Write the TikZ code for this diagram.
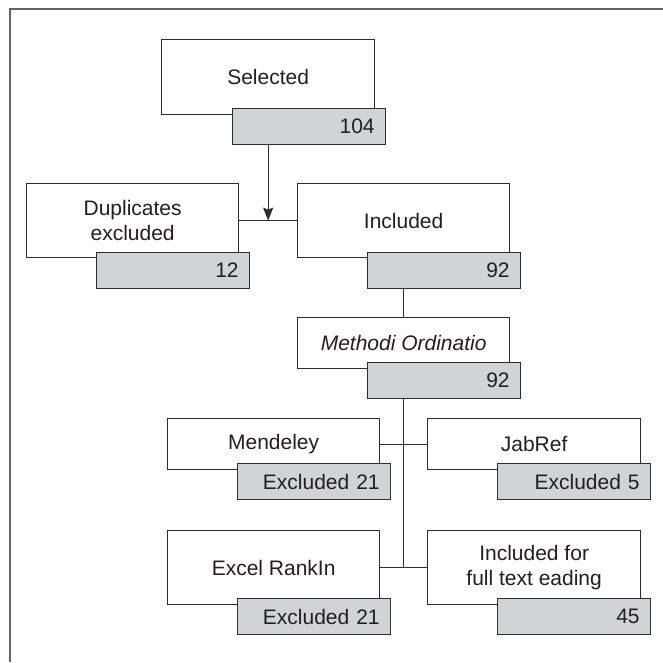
\documentclass[tikz,border=0pt]{standalone}
\usepackage{fontspec}
\setmainfont{Liberation Sans}
\usetikzlibrary{arrows.meta}
\definecolor{boxgray}{RGB}{209,211,212}
\definecolor{linec}{RGB}{45,45,45}
\definecolor{textc}{RGB}{35,31,32}
\definecolor{framec}{RGB}{100,100,100}
\begin{document}
\begin{tikzpicture}[x=1pt,y=-1pt,
  wbox/.style={draw=linec, line width=1.3pt, fill=white, rectangle, anchor=north west,
    inner sep=0pt, align=center, text=textc, font=\fontsize{21}{25.5}\selectfont},
  nbox/.style={draw=linec, line width=1.3pt, fill=boxgray, rectangle, anchor=north west,
    inner xsep=11pt, inner ysep=0pt, text width=131pt, align=right, minimum height=36pt,
    text=textc, font=\fontsize{21}{25.5}\selectfont},
  conn/.style={draw=linec, line width=1.3pt}]
\useasboundingbox (0,0) rectangle (663,662);
\draw[framec, line width=2pt] (10,662) -- (10,9) -- (663,9);

% Selected
\node[wbox, minimum width=213pt, minimum height=75pt] (sel) at (161,39) {Selected};
\node[nbox] (selnum) at (232,108) {104};

% Duplicates / Included
\node[wbox, minimum width=212pt, minimum height=74pt] (dup) at (26,183) {Duplicates\\excluded};
\node[nbox] (dupnum) at (96,252) {12};
\node[wbox, minimum width=212pt, minimum height=74pt] (incl) at (297,183) {Included};
\node[nbox] (inclnum) at (367,252) {92};

% Methodi Ordinatio
\node[wbox, minimum width=212pt, minimum height=51pt] (mo) at (297,317) {\itshape Methodi Ordinatio};
\node[nbox] (monum) at (367,362) {92};

% Mendeley / JabRef
\node[wbox, minimum width=212pt, minimum height=51pt] (mend) at (167,418) {Mendeley};
\node[nbox] (mendnum) at (237,463) {Excluded 21};
\node[wbox, minimum width=213pt, minimum height=51pt] (jab) at (427,418) {JabRef};
\node[nbox] (jabnum) at (497,463) {Excluded 5};

% Excel / Full text
\node[wbox, minimum width=212pt, minimum height=74pt] (exc) at (167,530) {Excel RankIn};
\node[nbox] (excnum) at (237,598) {Excluded 21};
\node[wbox, minimum width=213pt, minimum height=74pt] (full) at (427,530) {Included for\\full text eading};
\node[nbox] (fullnum) at (497,598) {45};

% connectors
\coordinate (j1) at (sel.south |- dup.east);
\draw[conn] (dup.east) -- (incl.west);
\draw[conn, -{Stealth[length=13pt,width=10pt,inset=2pt]}] (selnum.south -| sel.south) -- (j1);
\draw[conn] (inclnum.south -| incl.south) -- (mo.north);
\draw[conn] (monum.south -| mo.south) -- (mo.south |- exc.east);
\draw[conn] (mend.east) -- (jab.west);
\draw[conn] (exc.east) -- (full.west);
\end{tikzpicture}
\end{document}
